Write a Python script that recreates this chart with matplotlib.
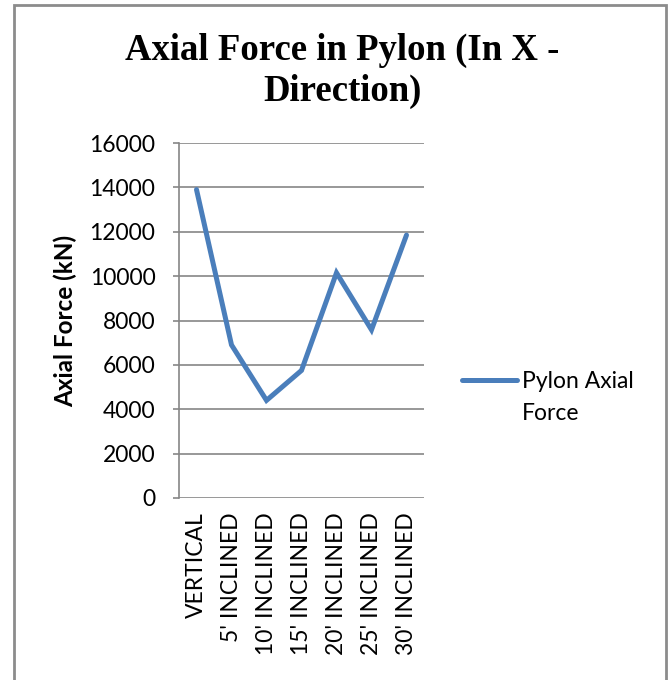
import matplotlib
matplotlib.use("Agg")
import matplotlib.pyplot as plt
from matplotlib.patches import Rectangle
import numpy as np

categories = ["VERTICAL", "5' INCLINED", "10' INCLINED", "15' INCLINED",
              "20' INCLINED", "25' INCLINED", "30' INCLINED"]
axial_force = [13900, 6900, 4400, 5750, 10150, 7580, 11850]
y_ticks = [0, 2000, 4000, 6000, 8000, 10000, 12000, 14000, 16000]

line_color = "#4A7EBB"
grid_color = "#868686"
sans = ["Lato", "DejaVu Sans"]
fs = 16.5

fig = plt.figure(figsize=(6.72, 6.8), dpi=100)

# outer chart border (bottom is cut off in the original)
fig.patches.append(Rectangle((13.5 / 672, -0.05), (666 - 13.5) / 672, 1.05 - 4.5 / 680,
                             transform=fig.transFigure, fill=False,
                             edgecolor="#8c8c8c", linewidth=2))

ax = fig.add_axes([179 / 672, 1 - 498 / 680, 245 / 672, 355 / 680])

x = np.arange(len(categories))
line, = ax.plot(x, axial_force, color=line_color, linewidth=3.6,
                solid_capstyle="round", solid_joinstyle="miter",
                label="Pylon Axial", zorder=3)

ax.set_xlim(-0.5, len(categories) - 0.5)
ax.set_ylim(0, 16000)
ax.set_yticks(y_ticks)
ax.set_yticklabels([str(v) for v in y_ticks], family=sans, fontsize=fs)
ax.set_xticks(x)
ax.set_xticklabels(categories, rotation=90, family=sans, fontsize=fs,
                   va="top", ha="center")
ax.tick_params(axis="x", length=0, pad=10)
ax.tick_params(axis="y", length=4, width=1.2, color=grid_color, pad=13)

ax.grid(axis="y", color=grid_color, linewidth=1.2)
ax.set_axisbelow(True)
for side in ["top", "right", "bottom"]:
    ax.spines[side].set_visible(False)
ax.spines["left"].set_color(grid_color)
ax.spines["left"].set_linewidth(1.2)

ax.set_ylabel("Axial Force (kN)", family=sans, fontsize=17.5,
              fontweight="bold", va="center")
ax.yaxis.set_label_coords(-(179 - 65) / 245, (498 - 321) / 355)

fig.text(342 / 672, 1 - 71 / 680, "Axial Force in Pylon (In X -\nDirection)",
         ha="center", va="center", family="Liberation Serif",
         fontweight="bold", fontsize=26.5, linespacing=1.2)

fig.legend(handles=[line], loc="center left",
           bbox_to_anchor=(462 / 672, 1 - 382 / 680), frameon=False,
           prop={"family": sans, "size": fs}, handlelength=2.4,
           handletextpad=0.2, borderpad=0, borderaxespad=0)
fig.text(522 / 672, 1 - 414 / 680, "Force", ha="left", va="center",
         family=sans, fontsize=fs)

fig.savefig("out.png", dpi=100, facecolor="white")
